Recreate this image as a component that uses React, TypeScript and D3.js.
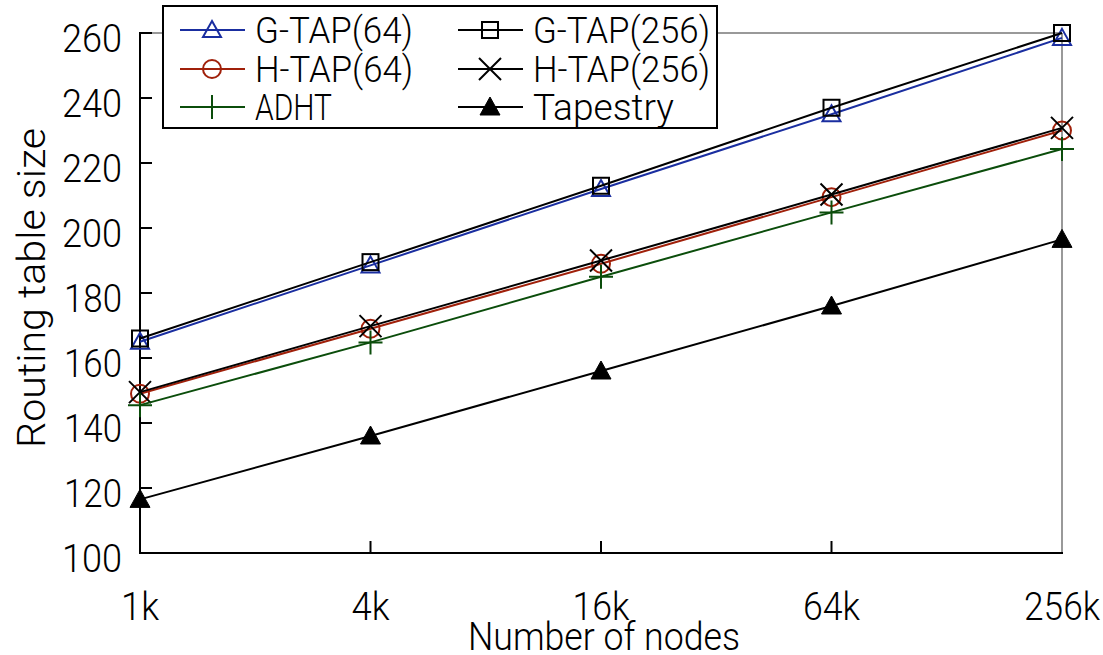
import React from "react";
import * as d3 from "d3";

const categories = ["1k", "4k", "16k", "64k", "256k"];
const yTicks = [100, 120, 140, 160, 180, 200, 220, 240, 260];
const gtap64 = [165, 188.5, 212, 235, 258.5];
const gtap256 = [166, 189.5, 213, 237, 260];
const htap64 = [149, 169, 189, 209.5, 230];
const htap256 = [149.5, 169.8, 190, 210.3, 230.8];
const adht = [145.5, 164.8, 185, 204.8, 224.3];
const tapestry = [116.5, 136, 156, 176, 196.5];

type S = { name: string; values: number[]; color: string; marker: string; col: number; row: number };
const series: S[] = [
  { name: "G-TAP(64)", values: gtap64, color: "#1a2ea0", marker: "tri", col: 0, row: 0 },
  { name: "G-TAP(256)", values: gtap256, color: "#000000", marker: "square", col: 1, row: 0 },
  { name: "H-TAP(64)", values: htap64, color: "#a0200a", marker: "circle", col: 0, row: 1 },
  { name: "H-TAP(256)", values: htap256, color: "#000000", marker: "x", col: 1, row: 1 },
  { name: "ADHT", values: adht, color: "#0b4d0b", marker: "plus", col: 0, row: 2 },
  { name: "Tapestry", values: tapestry, color: "#000000", marker: "ftri", col: 1, row: 2 },
];
const legendWidths: Record<string, number> = {
  "G-TAP(64)": 158, "G-TAP(256)": 177, "H-TAP(64)": 158, "H-TAP(256)": 177, "ADHT": 77, "Tapestry": 141,
};

const FONT = "Roboto, 'Liberation Sans', Arial, sans-serif";

function Marker({ type, x, y, color }: { type: string; x: number; y: number; color: string }) {
  const sw = 2;
  switch (type) {
    case "tri":
      return <path d={`M${x},${y - 9} L${x + 9},${y + 7} L${x - 9},${y + 7} Z`} fill="none" stroke={color} strokeWidth={sw} />;
    case "ftri":
      return <path d={`M${x},${y - 10} L${x + 10},${y + 8} L${x - 10},${y + 8} Z`} fill={color} stroke={color} strokeWidth={1} />;
    case "square":
      return <rect x={x - 8} y={y - 8} width={16} height={16} fill="none" stroke={color} strokeWidth={sw} />;
    case "circle":
      return <circle cx={x} cy={y} r={9} fill="none" stroke={color} strokeWidth={sw} />;
    case "x":
      return <path d={`M${x - 11},${y - 11} L${x + 11},${y + 11} M${x - 11},${y + 11} L${x + 11},${y - 11}`} stroke={color} strokeWidth={sw} />;
    case "plus":
      return <path d={`M${x - 12},${y} L${x + 12},${y} M${x},${y - 12} L${x},${y + 12}`} stroke={color} strokeWidth={sw} />;
  }
  return null;
}

export default function App() {
  const W = 1103, H = 655;
  const left = 140, right = 1062, top = 33, bottom = 553;
  const x = d3.scalePoint<string>().domain(categories).range([left, right]);
  const y = d3.scaleLinear().domain([100, 260]).range([bottom, top]);
  const line = d3.line<number>().x((_, i) => x(categories[i])!).y((d) => y(d));

  const legX = [180, 458];
  const legY = [30, 69, 107];

  return (
    <svg width={W} height={H} style={{ position: "absolute", left: 0, top: 0, display: "block" }} fontFamily={FONT} fontWeight={300}>
      <rect width={W} height={H} fill="#fff" />
      {/* frame */}
      <line x1={left} y1={top} x2={right} y2={top} stroke="#999" strokeWidth={2} />
      <line x1={right} y1={top} x2={right} y2={bottom} stroke="#999" strokeWidth={2} />
      <line x1={left} y1={top - 1} x2={left} y2={bottom + 1} stroke="#000" strokeWidth={2} />
      <line x1={left - 1} y1={bottom} x2={right + 1} y2={bottom} stroke="#000" strokeWidth={2} />
      {yTicks.map((t) => (
        <g key={t}>
          <line x1={left} x2={left + 12} y1={y(t)} y2={y(t)} stroke="#000" strokeWidth={2} />
          <text x={122} y={y(t) + 19} fontSize={39} textAnchor="end" textLength={t >= 200 || t === 100 ? 60 : 58} lengthAdjust="spacingAndGlyphs">{t}</text>
        </g>
      ))}
      {categories.map((c, i) => (
        <g key={c}>
          {i > 0 && i < categories.length - 1 && (
            <line x1={x(c)} x2={x(c)} y1={bottom} y2={bottom - 12} stroke="#000" strokeWidth={2} />
          )}
          <text x={x(c)} y={620} fontSize={39} textAnchor="middle" textLength={c.length * 19} lengthAdjust="spacingAndGlyphs">{c}</text>
        </g>
      ))}
      <text x={604} y={650} fontSize={39} textAnchor="middle" textLength={272} lengthAdjust="spacingAndGlyphs">Number of nodes</text>
      <text transform={`translate(45,288) rotate(-90)`} fontSize={39} textAnchor="middle" textLength={320} lengthAdjust="spacingAndGlyphs">Routing table size</text>

      {series.map((s) => (
        <g key={s.name}>
          <path d={line(s.values)!} fill="none" stroke={s.color} strokeWidth={2} />
          {s.values.map((v, i) => (
            <Marker key={i} type={s.marker} x={x(categories[i])!} y={y(v)} color={s.color} />
          ))}
        </g>
      ))}

      {/* legend */}
      <rect x={163} y={6} width={554} height={122} fill="#fff" stroke="#000" strokeWidth={2} />
      {series.map((s) => {
        const lx = legX[s.col];
        const ly = legY[s.row];
        return (
          <g key={s.name}>
            <line x1={lx} x2={lx + 65} y1={ly} y2={ly} stroke={s.color} strokeWidth={2} />
            <Marker type={s.marker} x={lx + 32} y={ly} color={s.color} />
            <text x={lx + 75} y={ly + 13} fontSize={36} textLength={legendWidths[s.name]} lengthAdjust="spacingAndGlyphs">{s.name}</text>
          </g>
        );
      })}
    </svg>
  );
}
